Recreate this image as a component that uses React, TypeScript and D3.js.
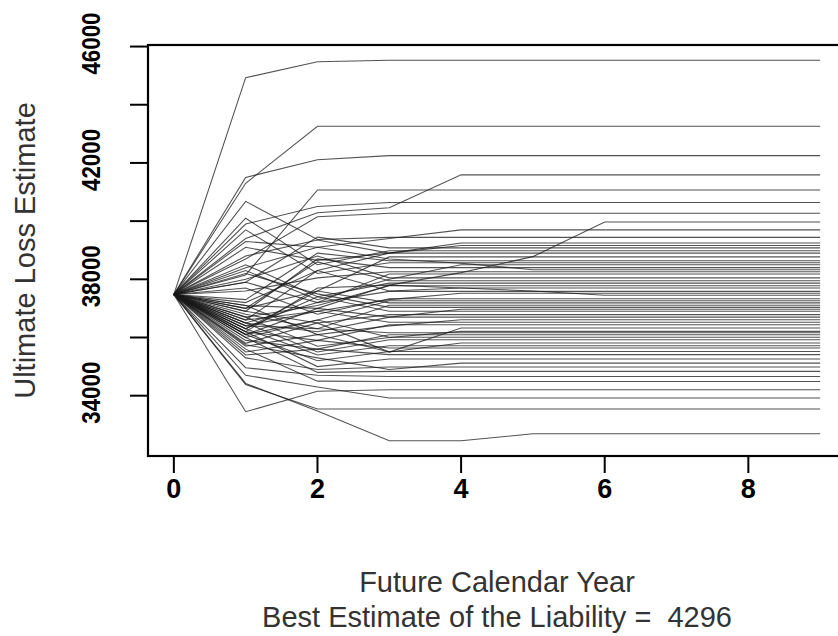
import React from "react";
import * as d3 from "d3";

// future calendar years (x) and the simulated ultimate loss paths (one per simulation)
const years = [0, 1, 2, 3, 4, 5, 6, 7, 8, 9];

const ultimatePaths: number[][] = [
  [37480, 44930, 45480, 45530, 45530, 45530, 45530, 45530, 45530, 45530],
  [37480, 41300, 43260, 43260, 43260, 43260, 43260, 43260, 43260, 43260],
  [37480, 41500, 42110, 42250, 42250, 42250, 42250, 42250, 42250, 42250],
  [37480, 39400, 40290, 40460, 41590, 41590, 41590, 41590, 41590, 41590],
  [37480, 38150, 41070, 41070, 41070, 41070, 41070, 41070, 41070, 41070],
  [37480, 39900, 40500, 40640, 40640, 40640, 40640, 40640, 40640, 40640],
  [37480, 38700, 40150, 40270, 40270, 40270, 40270, 40270, 40270, 40270],
  [37480, 37100, 37000, 37800, 38230, 38780, 39970, 39970, 39970, 39970],
  [37480, 38400, 39100, 39400, 39700, 39700, 39700, 39700, 39700, 39700],
  [37480, 40680, 39370, 39440, 39440, 39440, 39440, 39440, 39440, 39440],
  [37480, 39100, 38650, 38900, 39250, 39250, 39250, 39250, 39250, 39250],
  [37480, 36600, 38300, 38900, 39160, 39160, 39160, 39160, 39160, 39160],
  [37480, 37900, 39450, 39080, 39080, 39080, 39080, 39080, 39080, 39080],
  [37480, 40100, 38500, 38980, 38980, 38980, 38980, 38980, 38980, 38980],
  [37480, 38800, 39350, 38900, 38900, 38900, 38900, 38900, 38900, 38900],
  [37480, 36300, 37600, 38770, 38770, 38770, 38770, 38770, 38770, 38770],
  [37480, 37300, 38900, 38640, 38640, 38640, 38640, 38640, 38640, 38640],
  [37480, 39700, 38200, 38570, 38570, 38570, 38570, 38570, 38570, 38570],
  [37480, 38300, 37300, 38000, 38500, 38500, 38500, 38500, 38500, 38500],
  [37480, 36900, 38700, 38400, 38400, 38400, 38400, 38400, 38400, 38400],
  [37480, 39300, 39100, 38700, 38550, 38330, 38330, 38330, 38330, 38330],
  [37480, 37600, 38050, 38260, 38260, 38260, 38260, 38260, 38260, 38260],
  [37480, 36500, 37200, 38180, 38180, 38180, 38180, 38180, 38180, 38180],
  [37480, 38000, 38800, 38050, 38050, 38050, 38050, 38050, 38050, 38050],
  [37480, 37000, 38600, 37950, 37950, 37950, 37950, 37950, 37950, 37950],
  [37480, 38500, 37400, 37870, 37870, 37870, 37870, 37870, 37870, 37870],
  [37480, 36700, 37100, 37780, 37780, 37780, 37780, 37780, 37780, 37780],
  [37480, 37200, 38300, 37600, 37700, 37700, 37700, 37700, 37700, 37700],
  [37480, 37900, 37200, 37585, 37585, 37585, 37585, 37585, 37585, 37585],
  [37480, 36400, 36900, 37300, 37520, 37520, 37520, 37520, 37520, 37520],
  [37480, 36200, 37700, 37800, 37700, 37600, 37450, 37450, 37450, 37450],
  [37480, 37700, 36800, 37330, 37330, 37330, 37330, 37330, 37330, 37330],
  [37480, 36100, 36600, 37265, 37265, 37265, 37265, 37265, 37265, 37265],
  [37480, 37000, 37600, 37190, 37190, 37190, 37190, 37190, 37190, 37190],
  [37480, 36800, 36300, 37110, 37110, 37110, 37110, 37110, 37110, 37110],
  [37480, 38200, 37500, 37035, 37035, 37035, 37035, 37035, 37035, 37035],
  [37480, 36500, 36200, 36700, 36970, 36970, 36970, 36970, 36970, 36970],
  [37480, 36300, 37400, 36900, 36900, 36900, 36900, 36900, 36900, 36900],
  [37480, 36900, 36500, 36785, 36785, 36785, 36785, 36785, 36785, 36785],
  [37480, 36100, 37000, 36700, 36700, 36700, 36700, 36700, 36700, 36700],
  [37480, 37100, 36100, 36400, 36610, 36610, 36610, 36610, 36610, 36610],
  [37480, 36600, 36900, 36525, 36525, 36525, 36525, 36525, 36525, 36525],
  [37480, 36200, 35900, 36440, 36440, 36440, 36440, 36440, 36440, 36440],
  [37480, 35800, 36500, 35500, 36325, 36325, 36325, 36325, 36325, 36325],
  [37480, 36700, 35700, 36000, 36210, 36210, 36210, 36210, 36210, 36210],
  [37480, 36400, 36300, 36165, 36165, 36165, 36165, 36165, 36165, 36165],
  [37480, 35900, 35600, 36095, 36095, 36095, 36095, 36095, 36095, 36095],
  [37480, 36000, 36600, 36010, 36010, 36010, 36010, 36010, 36010, 36010],
  [37480, 36500, 35500, 35925, 35925, 35925, 35925, 35925, 35925, 35925],
  [37480, 35700, 36100, 35500, 35810, 35810, 35810, 35810, 35810, 35810],
  [37480, 36300, 35400, 35715, 35715, 35715, 35715, 35715, 35715, 35715],
  [37480, 35500, 35900, 35640, 35640, 35640, 35640, 35640, 35640, 35640],
  [37480, 36100, 35200, 35520, 35520, 35520, 35520, 35520, 35520, 35520],
  [37480, 35400, 35600, 35410, 35410, 35410, 35410, 35410, 35410, 35410],
  [37480, 36200, 35000, 35260, 35260, 35260, 35260, 35260, 35260, 35260],
  [37480, 35750, 35300, 34900, 35120, 35120, 35120, 35120, 35120, 35120],
  [37480, 35300, 34900, 34985, 34985, 34985, 34985, 34985, 34985, 34985],
  [37480, 36000, 34800, 34835, 34835, 34835, 34835, 34835, 34835, 34835],
  [37480, 34960, 34700, 34660, 34660, 34660, 34660, 34660, 34660, 34660],
  [37480, 35600, 34500, 34490, 34490, 34490, 34490, 34490, 34490, 34490],
  [37480, 33450, 34150, 34205, 34205, 34205, 34205, 34205, 34205, 34205],
  [37480, 34700, 34300, 33920, 33920, 33920, 33920, 33920, 33920, 33920],
  [37480, 34380, 33540, 33540, 33540, 33540, 33540, 33540, 33540, 33540],
  [37480, 34420, 33470, 32450, 32450, 32690, 32690, 32690, 32690, 32690],
];

const xTicks = [0, 2, 4, 6, 8];
const yTicks = [34000, 36000, 38000, 40000, 42000, 44000, 46000];
const yTickLabels = [34000, 38000, 42000, 46000];

const xTitle = "Future Calendar Year";
const bestEstimate = 4296;

const W = 838, H = 636;
const box = { left: 148, right: 846, top: 45, bottom: 456 };
const font = "'Liberation Sans', Arial, Helvetica, sans-serif";

// R style axis padding: 4% either side of the data range
const pad = ([a, b]: [number, number]) => {
  const d = (b - a) * 0.04;
  return [a - d, b + d];
};

export default function App() {
  const x = d3.scaleLinear()
    .domain(pad(d3.extent(years) as [number, number]))
    .range([box.left, box.right]);
  const y = d3.scaleLinear()
    .domain(pad(d3.extent(ultimatePaths.flat()) as [number, number]))
    .range([box.bottom, box.top]);

  const line = d3.line<number>()
    .x((_, i) => x(years[i]))
    .y((d) => y(d));

  const midX = (box.left + box.right) / 2;
  const midY = (box.top + box.bottom) / 2;

  return (
    <div style={{ position: "fixed", left: 0, top: 0 }}>
      <svg width={W} height={H} style={{ display: "block", background: "#fff" }}>
        <g fill="none" stroke="#1a1a1a" strokeWidth={1.1} strokeOpacity={0.75}>
          {ultimatePaths.map((p, i) => (
            <path key={i} d={line(p) || ""} />
          ))}
        </g>

        {/* plot frame */}
        <rect
          x={box.left}
          y={box.top}
          width={box.right - box.left}
          height={box.bottom - box.top}
          fill="none"
          stroke="#000"
          strokeWidth={2.2}
        />

        {/* x axis */}
        <g stroke="#000" strokeWidth={2}>
          {xTicks.map((t) => (
            <line key={t} x1={x(t)} x2={x(t)} y1={box.bottom} y2={box.bottom + 17} />
          ))}
        </g>
        <g fontFamily={font} fontWeight="bold" fontSize={27} fill="#000" textAnchor="middle">
          {xTicks.map((t) => (
            <text key={t} x={x(t)} y={box.bottom + 42}>{t}</text>
          ))}
        </g>

        {/* y axis */}
        <g stroke="#000" strokeWidth={2}>
          {yTicks.map((t) => (
            <line key={t} x1={box.left - 18} x2={box.left} y1={y(t)} y2={y(t)} />
          ))}
        </g>
        <g fontFamily={font} fontWeight="bold" fontSize={25} fill="#000" textAnchor="middle">
          {yTickLabels.map((t) => (
            <text
              key={t}
              transform={`translate(${box.left - 48},${y(t) - 3}) rotate(-90)`}
              textLength={62}
              lengthAdjust="spacingAndGlyphs"
            >
              {t}
            </text>
          ))}
        </g>

        {/* axis titles */}
        <g fontFamily={font} fontSize={29} fill="#333" textAnchor="middle">
          <text x={midX} y={592}>{xTitle}</text>
          <text x={midX} y={627} style={{ whiteSpace: "pre" }}>
            {`Best Estimate of the Liability =  ${bestEstimate}`}
          </text>
          <text transform={`translate(25,${midY}) rotate(-90)`} dominantBaseline="central">
            Ultimate Loss Estimate
          </text>
        </g>
      </svg>
    </div>
  );
}
